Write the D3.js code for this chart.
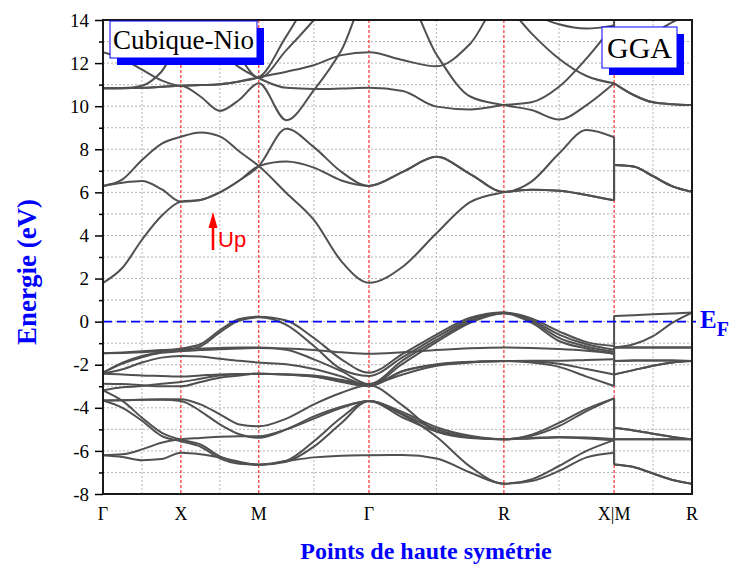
<!DOCTYPE html>
<html>
<head>
<meta charset="utf-8">
<script src="https://cdn.jsdelivr.net/npm/d3@7"></script>
<style>
  body { margin: 0; background: #fff; }
  svg { display: block; }
</style>
</head>
<body>
<svg id="chart" width="737" height="568"></svg>
<script>
// high symmetry path Γ-X-M-Γ-R-X|M-R (distances in 2π/a)
const kLabels = ['Γ', 'X', 'M', 'Γ', 'R', 'X|M', 'R'];
const kNodes = [0, 0.5, 1.0, 1.7071, 2.5731, 3.2802, 3.7802];
const kMid = [0.25, 0.75, 1.3536, 2.1401, 2.9267, 3.5302];
// sample points: quarter steps on every segment, X|M listed twice (index 20 = X, 21 = M)
const kSamples = [0, 0.125, 0.25, 0.375, 0.5,
  0.625, 0.75, 0.875, 1.0,
  1.1768, 1.3536, 1.5303, 1.7071,
  1.9236, 2.1401, 2.3566, 2.5731,
  2.7499, 2.9267, 3.1034, 3.2802,
  3.2802, 3.4052, 3.5302, 3.6552, 3.7802];
const majorTicks = [-8, -6, -4, -2, 0, 2, 4, 6, 8, 10, 12, 14];
const minorTicks = [-7, -5, -3, -1, 1, 3, 5, 7, 9, 11, 13];
const gridLevels = [-7, -6, -5, -4, -3, -2, -1, 0, 1, 2, 3, 4, 5, 6, 7, 8, 9, 10, 11, 12, 13];

// energies (eV), one row per band
const conductionBands = [
  [1.8,2.5,3.8,4.9,5.57, 5.65,6.0,6.55,7.22, 8.95,8.1,6.95,6.3, 6.95,7.65,6.85,6.02, 6.5,7.8,8.9,8.56, 7.27,7.2,6.75,6.28,6.03],
  [6.3,6.45,6.53,6.15,5.57, 5.65,6.0,6.55,7.22, 7.43,7.15,6.55,6.3, 6.95,7.65,6.85,6.02, 6.12,6.08,5.88,5.63, 7.27,7.2,6.75,6.28,6.03],
  [6.3,6.6,7.5,8.25,8.58, 8.78,8.6,7.9,7.22, 5.97,4.72,2.8,1.8, 2.55,4.1,5.55,6.0, 6.12,6.08,5.88,5.63, 7.27,7.2,6.75,6.28,6.03],
  [10.83,10.83,10.85,10.9,10.95, 10.45,9.78,10.3,11.06, 9.35,10.75,12.6,15.2, 15.2,12.4,10.45,10.05, 9.82,9.38,10.05,11.06, 11.06,10.52,10.18,10.09,10.05],
  [10.83,10.84,10.95,11.6,12.9, 12.8,12.5,11.8,11.3, 10.85,10.8,10.82,10.85, 10.7,9.98,9.85,10.05, 10.18,10.9,12.22,13.8, 13.0,13.1,13.4,13.9,14.3],
  [12.5,12.2,11.7,11.2,10.95, 10.98,11.02,11.15,11.34, 11.6,11.9,12.37,12.5, 12.14,11.85,12.9,15.0, 14.3,13.8,13.6,13.75, 14.6,14.7,14.8,14.9,15.0],
  [10.83,10.83,10.85,10.9,10.95, 10.98,11.02,11.15,11.34, 13.25,15.2,16,16, 16,16,15.6,14.8, 13.38,12.2,11.4,11.06, 11.06,10.52,10.18,10.09,10.05],
  [16,16,16,15.6,15, 14.4,13.4,12.3,11.3, 12.6,14.0,15.5,16, 16,16,16,16, 16,16,16,16, 16,16,16,16,16]
];

const valenceBands = [
  [-2.37,-1.9,-1.59,-1.4,-1.25, -1.05,-0.4,0.12,0.23, 0.05,-0.76,-1.75,-2.37, -1.5,-0.6,0.18,0.42, 0.15,-0.45,-0.95,-1.13, 0.26,0.3,0.34,0.38,0.42],
  [-2.37,-1.95,-1.65,-1.45,-1.36, -1.15,-0.5,0.05,0.2, -0.15,-1.13,-2.21,-2.52, -1.65,-0.72,0.1,0.42, 0.08,-0.6,-1.05,-1.3, -1.2,-1.05,-0.67,-0.05,0.42],
  [-1.47,-1.45,-1.42,-1.38,-1.36, -1.32,-1.28,-1.25,-1.22, -1.25,-1.32,-1.42,-1.49, -1.42,-1.32,-1.24,-1.2, -1.22,-1.27,-1.35,-1.48, -1.2,-1.2,-1.2,-1.2,-1.2],
  [-1.47,-1.43,-1.38,-1.32,-1.28, -1.25,-1.22,-1.2,-1.2, -1.3,-1.75,-2.3,-2.9, -1.8,-0.85,0.02,0.4, 0.02,-0.75,-1.15,-1.4, -1.83,-1.8,-1.8,-1.8,-1.83],
  [-2.41,-2.21,-1.9,-1.67,-1.59, -1.62,-1.72,-1.82,-1.9, -1.98,-2.2,-2.55,-2.95, -1.95,-0.95,-0.05,0.38, -0.05,-0.9,-1.25,-1.5, -2.45,-2.25,-2.05,-1.9,-1.83],
  [-2.42,-2.45,-2.5,-2.52,-2.55, -2.5,-2.45,-2.43,-2.42, -2.45,-2.55,-2.8,-3.0, -2.29,-1.98,-1.86,-1.83, -1.82,-1.82,-1.78,-1.75, -1.83,-1.8,-1.8,-1.8,-1.83],
  [-2.88,-2.9,-2.95,-3.0,-3.0, -2.8,-2.6,-2.5,-2.42, -2.45,-2.55,-2.75,-2.9, -2.45,-2.05,-1.9,-1.83, -1.85,-1.95,-2.2,-2.45, -1.2,-1.2,-1.2,-1.2,-1.2],
  [-3.19,-3.05,-2.99,-2.88,-2.8, -2.65,-2.5,-2.45,-2.42, -2.45,-2.5,-2.7,-2.95, -2.3,-2.0,-1.88,-1.83, -1.9,-2.1,-2.55,-2.99, -2.45,-2.25,-2.05,-1.9,-1.83],
  [-3.66,-3.65,-3.63,-3.6,-3.6, -3.84,-4.3,-4.77,-4.86, -4.5,-3.84,-3.3,-2.95, -3.9,-5.1,-5.4,-5.46, -5.4,-5.35,-5.38,-5.45, -4.93,-5.05,-5.2,-5.35,-5.46],
  [-3.19,-3.68,-4.46,-5.15,-5.48, -5.7,-6.25,-6.55,-6.64, -6.45,-5.55,-4.45,-3.68, -4.33,-5.34,-6.73,-7.52, -7.32,-6.7,-6.0,-5.5, -6.63,-6.75,-7.05,-7.35,-7.52],
  [-3.66,-4.0,-4.6,-5.3,-5.55, -5.8,-6.35,-6.6,-6.64, -6.5,-5.8,-4.7,-3.68, -4.45,-5.1,-5.35,-5.46, -5.3,-4.85,-4.15,-3.56, -5.46,-5.46,-5.46,-5.46,-5.46],
  [-6.2,-6.16,-5.93,-5.62,-5.46, -5.4,-5.34,-5.32,-5.32, -5.0,-4.5,-4.0,-3.68, -4.3,-5.0,-5.35,-5.46, -5.25,-4.7,-4.05,-3.56, -4.93,-5.05,-5.2,-5.35,-5.46],
  [-6.2,-6.28,-6.43,-6.38,-6.08, -6.15,-6.3,-6.5,-6.64, -6.47,-6.3,-6.22,-6.2, -6.19,-6.35,-7.0,-7.52, -7.4,-6.93,-6.3,-6.08, -6.63,-6.75,-7.05,-7.35,-7.52],
  [-3.66,-3.65,-3.63,-3.62,-3.68, -4.15,-4.77,-5.23,-5.39, -5.0,-4.4,-3.95,-3.68, -4.2,-4.9,-5.3,-5.46, -5.42,-5.38,-5.42,-5.5, -5.46,-5.46,-5.46,-5.46,-5.46]
];

const serif = '"Liberation Serif", "Times New Roman", serif';
const bandColor = '#505050';

const svg = d3.select('#chart');
const plotLeft = 103, plotRight = 692, plotTop = 20, plotBottom = 494;

const x = d3.scaleLinear().domain([kNodes[0], kNodes[kNodes.length - 1]]).range([plotLeft, plotRight]);
const y = d3.scaleLinear().domain([-8, 14]).range([plotBottom, plotTop]);

svg.append('defs').append('clipPath').attr('id', 'plot')
  .append('rect').attr('x', plotLeft).attr('y', plotTop)
  .attr('width', plotRight - plotLeft).attr('height', plotBottom - plotTop);

// grid
svg.append('g').selectAll('line').data(gridLevels).join('line')
  .attr('x1', plotLeft).attr('x2', plotRight)
  .attr('y1', d => y(d)).attr('y2', d => y(d))
  .attr('stroke', '#b4b4b4').attr('stroke-width', 1).attr('stroke-dasharray', '2,2');
svg.append('g').selectAll('line').data(kMid).join('line')
  .attr('x1', d => x(d)).attr('x2', d => x(d))
  .attr('y1', plotTop).attr('y2', plotBottom)
  .attr('stroke', '#b4b4b4').attr('stroke-width', 1).attr('stroke-dasharray', '2,2');

// high symmetry points
svg.append('g').selectAll('line').data(kNodes.slice(1, -1)).join('line')
  .attr('x1', d => x(d)).attr('x2', d => x(d))
  .attr('y1', plotTop).attr('y2', plotBottom)
  .attr('stroke', '#ff0000').attr('stroke-width', 1).attr('stroke-dasharray', '3,2');

// bands
const line = d3.line().x(d => x(d[0])).y(d => y(d[1])).curve(d3.curveMonotoneX);
const straight = d3.line().x(d => x(d[0])).y(d => y(d[1]));
const gBands = svg.append('g').attr('clip-path', 'url(#plot)')
  .attr('fill', 'none').attr('stroke', bandColor).attr('stroke-width', 2)
  .attr('stroke-linejoin', 'round');

conductionBands.concat(valenceBands).forEach(band => {
  const pts = band.map((e, i) => [kSamples[i], e]);
  gBands.append('path').attr('d', line(pts.slice(0, 21)));
  gBands.append('path').attr('d', line(pts.slice(21)));
  gBands.append('path').attr('d', straight([pts[20], pts[21]]));
});

// Fermi level
svg.append('line')
  .attr('x1', plotLeft).attr('x2', plotRight + 4)
  .attr('y1', y(0)).attr('y2', y(0))
  .attr('stroke', '#0000ff').attr('stroke-width', 1.6).attr('stroke-dasharray', '9,5');

// frame
svg.append('rect').attr('x', plotLeft).attr('y', plotTop)
  .attr('width', plotRight - plotLeft).attr('height', plotBottom - plotTop)
  .attr('fill', 'none').attr('stroke', '#1a1a1a').attr('stroke-width', 2);

// y axis
const yAxis = svg.append('g').attr('transform', `translate(${plotLeft},0)`)
  .call(d3.axisLeft(y).tickValues(majorTicks).tickSize(8).tickPadding(6).tickFormat(d => String(d)));
yAxis.select('.domain').remove();
yAxis.selectAll('.tick line').attr('stroke', '#000').attr('stroke-width', 1.5);
yAxis.selectAll('.tick text').attr('font-family', serif).attr('font-size', 19).attr('fill', '#000');

const yMinor = svg.append('g').attr('transform', `translate(${plotLeft},0)`)
  .call(d3.axisLeft(y).tickValues(minorTicks).tickSize(4).tickFormat(''));
yMinor.select('.domain').remove();
yMinor.selectAll('.tick line').attr('stroke', '#000').attr('stroke-width', 1.5);

// x labels
svg.append('g').selectAll('text').data(kNodes).join('text')
  .attr('x', d => x(d)).attr('y', 520)
  .attr('text-anchor', 'middle')
  .attr('font-family', serif).attr('font-size', 18)
  .text((d, i) => kLabels[i]);

// axis titles
svg.append('text')
  .attr('transform', 'translate(36,272) rotate(-90)')
  .attr('text-anchor', 'middle')
  .attr('font-family', serif).attr('font-size', 27).attr('font-weight', 'bold')
  .attr('fill', '#0000ff')
  .text('Energie (eV)');

svg.append('text')
  .attr('x', 426).attr('y', 559)
  .attr('text-anchor', 'middle')
  .attr('font-family', serif).attr('font-size', 24).attr('font-weight', 'bold')
  .attr('fill', '#0000ff')
  .text('Points de haute symétrie');

// E_F label
const ef = svg.append('text')
  .attr('x', 700).attr('y', 328)
  .attr('font-family', serif).attr('font-weight', 'bold').attr('fill', '#0000ff');
ef.append('tspan').attr('font-size', 25).text('E');
ef.append('tspan').attr('font-size', 20).attr('dy', 8).text('F');

// label boxes with blue shadow
function labelBox(bx, by, w, h, txt, size, baseline) {
  svg.append('rect').attr('x', bx + 7).attr('y', by + 7).attr('width', w).attr('height', h).attr('fill', '#0000ff');
  svg.append('rect').attr('x', bx).attr('y', by).attr('width', w).attr('height', h)
    .attr('fill', '#fff').attr('stroke', '#0000ff').attr('stroke-width', 1);
  svg.append('text').attr('x', bx + w / 2).attr('y', baseline)
    .attr('text-anchor', 'middle')
    .attr('font-family', serif).attr('font-size', size).attr('fill', '#000')
    .text(txt);
}
labelBox(110, 21, 147, 37, 'Cubique-Nio', 27, 49);
labelBox(602, 27, 75, 41, 'GGA', 30, 58);

// spin up marker
svg.append('line').attr('x1', 213).attr('x2', 213).attr('y1', 250).attr('y2', 224)
  .attr('stroke', '#ff0000').attr('stroke-width', 2.5);
svg.append('path').attr('d', 'M213,212 L217.5,228 L208.5,228 Z').attr('fill', '#ff0000');
svg.append('text').attr('x', 218).attr('y', 247)
  .attr('font-family', '"Liberation Sans", Arial, sans-serif').attr('font-size', 22)
  .attr('fill', '#ff0000')
  .text('Up');
</script>
</body>
</html>
